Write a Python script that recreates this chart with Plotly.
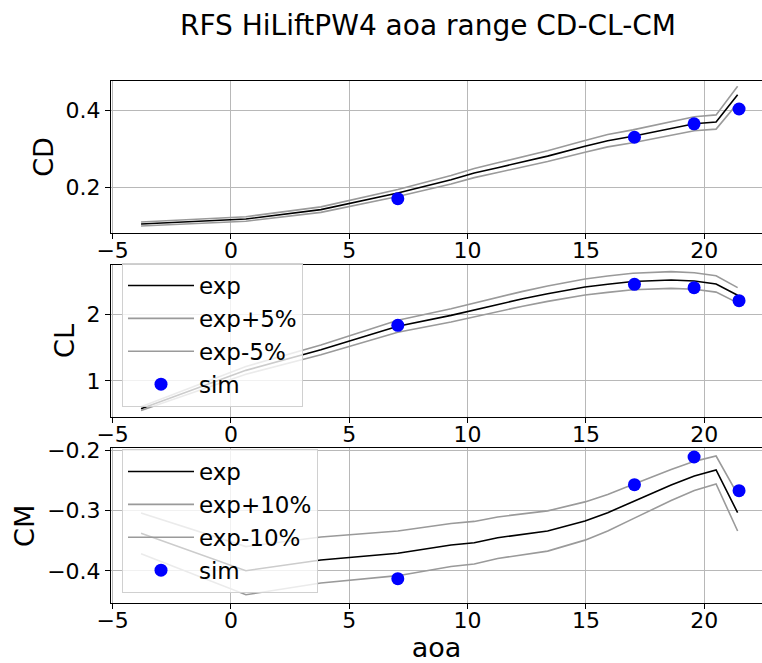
import numpy as np
import plotly.graph_objects as go

# experimental data
aoa_exp = [-3.8, 0.63, 3.8, 7.05, 9.3, 10.28, 11.27, 12.33, 13.38, 14.96, 15.92, 16.98, 18.6, 19.58, 20.5, 21.41]
cd_exp = [0.1047, 0.1177, 0.142, 0.1852, 0.2198, 0.237, 0.251, 0.2657, 0.281, 0.3065, 0.321, 0.3325, 0.352, 0.365, 0.3696, 0.4405]
cl_exp = [0.582, 1.16, 1.47, 1.825, 1.99, 2.07, 2.16, 2.24, 2.317, 2.418, 2.46, 2.50, 2.523, 2.508, 2.463, 2.293]
cm_exp = [-0.3375, -0.3995, -0.3818, -0.3707, -0.3569, -0.3531, -0.3448, -0.3392, -0.3337, -0.3171, -0.3033, -0.2851, -0.2574, -0.2424, -0.2325, -0.3033]

# simulation data
aoa_sim = [7.05, 17.05, 19.57, 21.47]
cd_sim = [0.1704, 0.330, 0.365, 0.4034]
cl_sim = [1.84, 2.458, 2.407, 2.211]
cm_sim = [-0.4128, -0.2569, -0.2109, -0.2668]

x_ticks = [-5, 0, 5, 10, 15, 20]

FONT = "DejaVu Sans"
GREY = "#9a9a9a"

fig = go.Figure()

panels = [
    ("CD", cd_exp, cd_sim, 0.05, "x", "y", None),
    ("CL", cl_exp, cl_sim, 0.05, "x2", "y2", "legend"),
    ("CM", cm_exp, cm_sim, 0.10, "x3", "y3", "legend2"),
]

for name, exp, sim, pct, xa, ya, leg in panels:
    e = np.array(exp)
    pct_lbl = f"{int(round(pct * 100))}%"
    show = leg is not None
    common = dict(xaxis=xa, yaxis=ya, showlegend=show)
    if leg:
        common["legend"] = leg
    fig.add_trace(go.Scatter(x=aoa_exp, y=exp, mode="lines", name="exp",
                             line=dict(color="black", width=1.6), legendgroup=name + "a", **common))
    fig.add_trace(go.Scatter(x=aoa_exp, y=e * (1 + pct), mode="lines", name="exp+" + pct_lbl,
                             line=dict(color=GREY, width=1.6), legendgroup=name + "b", **common))
    fig.add_trace(go.Scatter(x=aoa_exp, y=e * (1 - pct), mode="lines", name="exp-" + pct_lbl,
                             line=dict(color=GREY, width=1.6), legendgroup=name + "c", **common))
    fig.add_trace(go.Scatter(x=aoa_sim, y=sim, mode="markers", name="sim",
                             marker=dict(color="blue", size=13), legendgroup=name + "d", **common))

H = 663.0
def dom(top, bot):
    return [1 - bot / H, 1 - top / H]

xaxis_common = dict(range=[-5.07, 22.44], tickvals=x_ticks, showgrid=True, gridcolor="#b8b8b8",
                    gridwidth=1, showline=True, linecolor="black", linewidth=1, mirror=True,
                    ticks="outside", ticklen=5, tickcolor="black", zeroline=False, automargin=False,
                    ticklabelstandoff=-8,
                    tickfont=dict(family=FONT, size=22, color="black"), domain=[0, 1])
yaxis_common = dict(showgrid=True, gridcolor="#b8b8b8", gridwidth=1, showline=True, linecolor="black",
                    linewidth=1, ticks="outside", ticklen=5, tickcolor="black", zeroline=False,
                    automargin=False,
                    tickfont=dict(family=FONT, size=22, color="black"),
                    title_font=dict(family=FONT, size=27, color="black"), title_standoff=4)

leg_common = dict(xanchor="left", yanchor="top",
                  bgcolor="rgba(255,255,255,0.8)", bordercolor="#d0d0d0", borderwidth=1,
                  font=dict(family=FONT, size=23, color="black"), traceorder="grouped",
                  tracegroupgap=0, itemwidth=66)

fig.update_layout(
    width=762, height=663,
    margin=dict(l=111, r=0, t=0, b=0),
    paper_bgcolor="white", plot_bgcolor="white",
    font=dict(family=FONT, color="black"),
    title=dict(text="RFS HiLiftPW4 aoa range CD-CL-CM", x=428 / 762, xref="container", xanchor="center",
               y=1 - 25 / 663, yref="container", yanchor="middle",
               font=dict(family=FONT, size=28, color="black")),
    xaxis=dict(**xaxis_common, anchor="y"),
    xaxis2=dict(**xaxis_common, anchor="y2"),
    xaxis3=dict(**xaxis_common, anchor="y3",
                title=dict(text="aoa", font=dict(family=FONT, size=27, color="black"), standoff=6)),
    yaxis=dict(**yaxis_common, domain=dom(80.7, 233.3), range=[0.0805, 0.4769], dtick=0.2,
               title_text="CD", anchor="x"),
    yaxis2=dict(**yaxis_common, domain=dom(264.7, 417.3), range=[0.452, 2.754], dtick=1,
                title_text="CL", anchor="x2"),
    yaxis3=dict(**yaxis_common, domain=dom(448.3, 603.3), range=[-0.4536, -0.1965], dtick=0.1,
                title_text="CM", anchor="x3"),
    legend=dict(x=(122 - 111) / 651, y=1 - 263 / H, **leg_common),
    legend2=dict(x=(122 - 111) / 651, y=1 - 449 / H, **leg_common),
)

fig.write_html("out.html", config={"displayModeBar": False},
               post_script="document.body.style.margin='0px';")
